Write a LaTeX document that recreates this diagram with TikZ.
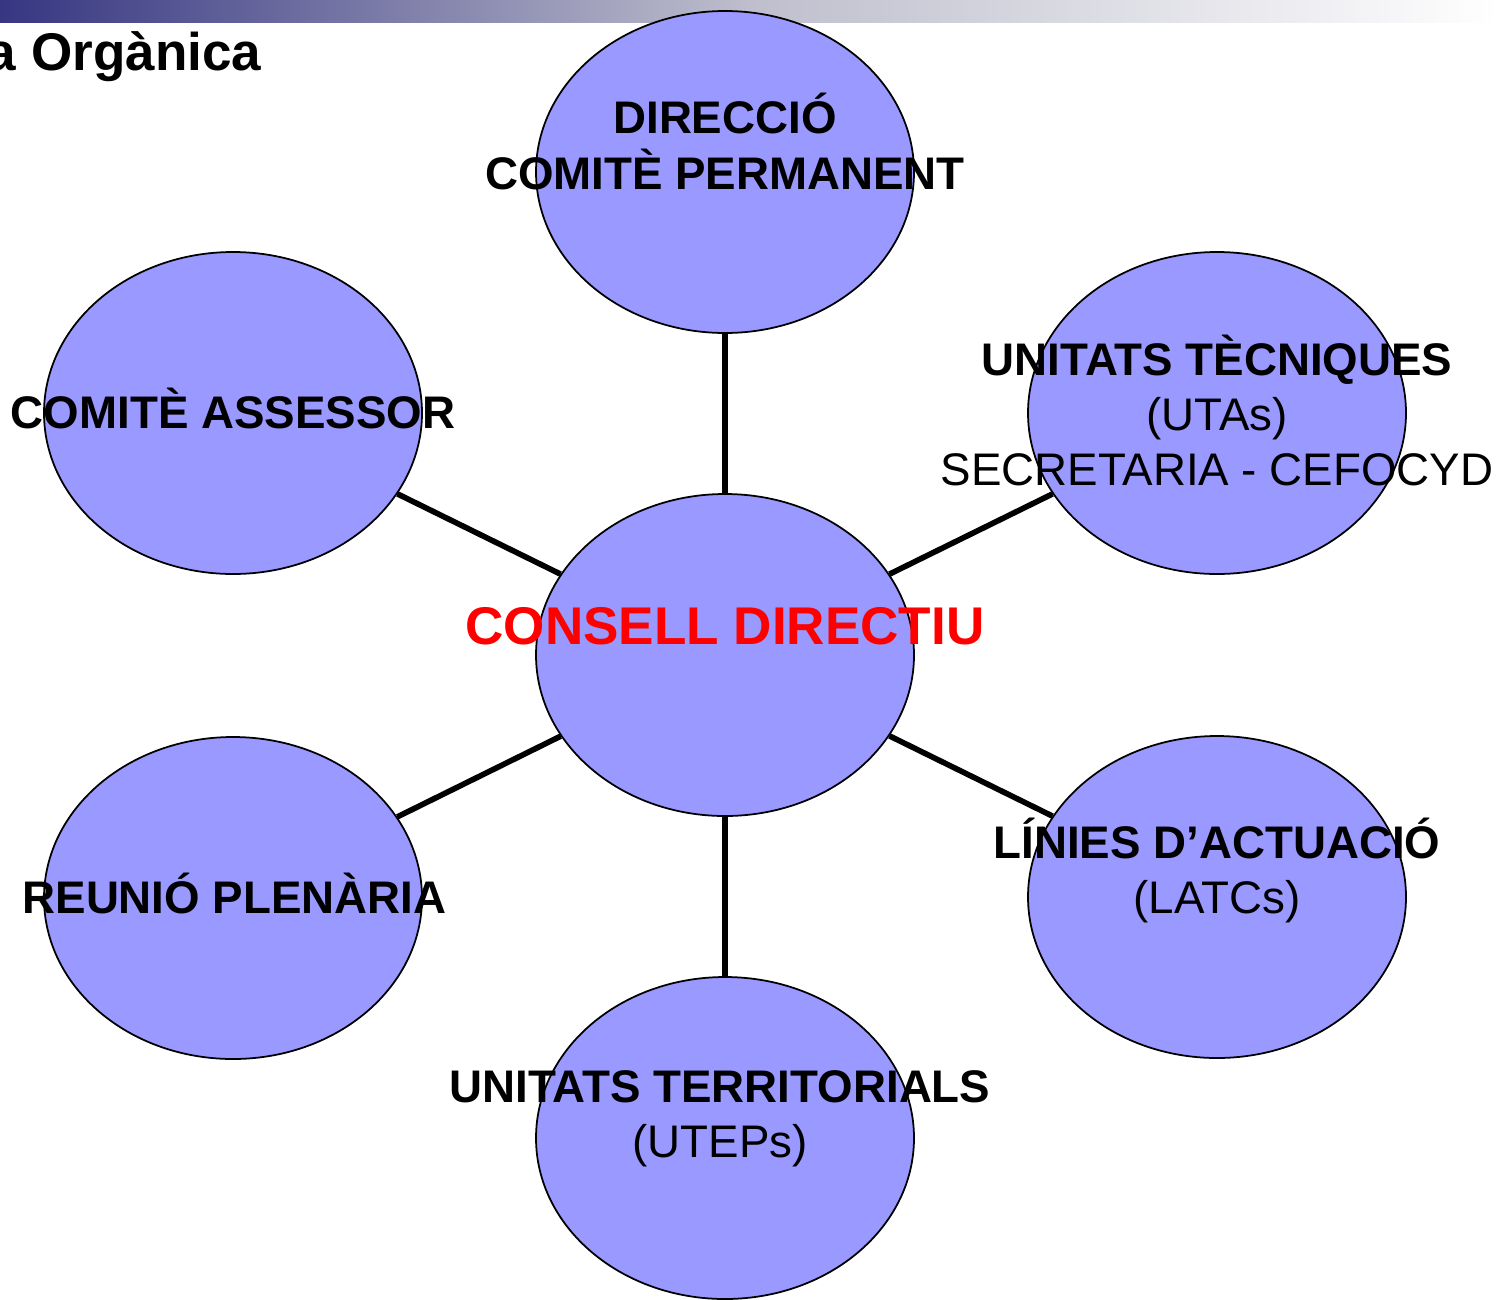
\documentclass[tikz,border=0pt]{standalone}
\usepackage{fontspec}
\setmainfont{Liberation Sans}
\usepackage{tikz}
\usetikzlibrary{positioning, shapes.geometric}
\definecolor{lila}{HTML}{9999FF}
\definecolor{fosc}{RGB}{54,54,130}
\definecolor{mig}{RGB}{190,190,205}

\begin{document}
\begin{tikzpicture}[on grid, thin]
  \tikzset{bola/.style={ellipse, draw, fill=lila, line width=0.5pt, minimum width=3.78cm, minimum height=3.22cm, inner sep=0pt},
           lbl/.style={align=center, inner sep=0pt, anchor=base, font=\fontsize{13pt}{15.65pt}\selectfont},
           enlace/.style={line width=1.6pt}}
  \useasboundingbox (0,0) rectangle (14.99,-12.99);
  \shade[left color=fosc, right color=white, middle color=mig] (0,0) rectangle (14.99,-0.22);
  \node[anchor=base east, inner sep=0pt, font=\bfseries\fontsize{15.1pt}{18pt}\selectfont] (titol) at (2.62,-0.70) {a Orgànica};

  \node[bola] (cd) at (7.25,-6.55) {};
  \node[bola] (dir) [above=4.83cm of cd] {};
  \node[bola] (ases) [above left=2.42cm and 4.92cm of cd] {};
  \node[bola] (uta) [above right=2.42cm and 4.92cm of cd] {};
  \node[bola] (plen) [below left=2.43cm and 4.92cm of cd] {};
  \node[bola] (latc) [below right=2.42cm and 4.92cm of cd] {};
  \node[bola] (utep) [below=4.83cm of cd] {};

  \draw[enlace] (cd) -- (dir);
  \draw[enlace] (cd) -- (ases);
  \draw[enlace] (cd) -- (uta);
  \draw[enlace] (cd) -- (plen);
  \draw[enlace] (cd) -- (latc);
  \draw[enlace] (cd) -- (utep);

  \node[lbl, font=\bfseries\fontsize{13pt}{15.65pt}\selectfont] (dirT) at ([yshift=-0.17cm]dir.center) {DIRECCIÓ\\COMITÈ PERMANENT};
  \node[lbl, font=\bfseries\fontsize{13pt}{15.65pt}\selectfont] (asesT) at ([yshift=-0.15cm]ases.center) {COMITÈ ASSESSOR};
  \node[lbl] (utaT) at ([yshift=-0.72cm]uta.center) {\textbf{UNITATS TÈCNIQUES}\\(UTAs)\\SECRETARIA - CEFOCYD};
  \node[lbl, text=red, font=\bfseries\fontsize{15.1pt}{18pt}\selectfont] (cdT) at ([yshift=0.11cm]cd.center) {CONSELL DIRECTIU};
  \node[lbl, font=\bfseries\fontsize{13pt}{15.65pt}\selectfont] (plenT) at ([xshift=0.015cm,yshift=-0.15cm]plen.center) {REUNIÓ PLENÀRIA};
  \node[lbl] (latcT) at ([yshift=-0.16cm]latc.center) {\textbf{LÍNIES D’ACTUACIÓ}\\(LATCs)};
  \node[lbl] (utepT) at ([xshift=-0.05cm,yshift=-0.19cm]utep.center) {\textbf{UNITATS TERRITORIALS}\\(UTEPs)};
\end{tikzpicture}
\end{document}
